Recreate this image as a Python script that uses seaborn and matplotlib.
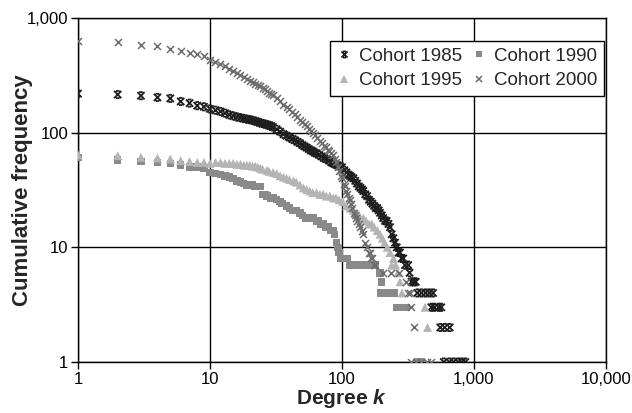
import matplotlib
matplotlib.use("Agg")
import matplotlib.pyplot as plt
import seaborn as sns
import pandas as pd
from matplotlib.lines import Line2D
from matplotlib.path import Path
from matplotlib.ticker import FixedLocator, FixedFormatter, NullLocator

# ---------------- data ----------------
k_1985 = [1, 2, 3, 4, 5, 6, 7, 8, 9, 10, 11, 12, 13, 14, 15, 16, 17, 18, 19, 20, 21, 22, 23, 24,
          25, 26, 27, 28, 29, 30, 32, 34, 36, 38, 40, 42, 44, 46, 48, 50, 52, 54, 56, 58, 60, 62,
          64, 67, 70, 73, 76, 80, 83, 86, 89, 92, 96, 100, 104, 108, 112, 115, 118, 122, 126,
          130, 134, 138, 142, 145, 150, 155, 160, 165, 170, 175, 180, 185, 190, 194, 200, 205,
          212, 218, 225, 231, 238, 245, 252, 260, 268, 275, 283, 291, 300, 318, 325, 336, 350,
          362, 372, 400, 430, 460, 490, 475, 500, 540, 565, 555, 600, 655, 590, 650, 700, 760,
          810, 860]
f_1985 = [219, 215, 210, 203, 199, 187, 181, 172, 168, 161, 157, 153, 148, 143, 140, 137, 135, 133,
          131, 130, 128, 126, 124, 122, 120, 119, 117, 116, 114, 112, 107, 102, 97, 94, 91, 88, 86,
          83, 81, 78, 76, 74, 72, 70, 69, 67, 66, 64, 62, 60, 59, 57, 55, 54, 53, 52, 51, 50, 47,
          45, 43, 42, 41, 40, 38, 36, 34, 33, 32, 31, 29, 28, 26, 25, 24, 23, 22, 22, 21, 20, 19,
          18, 17, 17, 16, 15, 13, 12, 11, 10, 9, 9, 8, 8, 7, 7, 6, 5, 5, 5, 4, 4, 4, 4, 4, 3, 3,
          3, 3, 2, 2, 2, 1, 1, 1, 1, 1, 1]

k_1990 = [1, 2, 3, 4, 5, 6, 7, 8, 9, 10, 11, 12, 13, 14, 15, 16, 17, 18, 19, 20, 21, 22, 23, 24,
          25, 26, 27, 29, 30, 32, 34, 35, 38, 40, 42, 45, 48, 50, 53, 55, 58, 61, 64, 66, 69, 72,
          75, 78, 82, 86, 88, 91, 93, 95, 97, 101, 105, 110, 115, 122, 130, 140, 150, 165, 180,
          194, 200, 198, 215, 235, 247, 258, 270, 285, 308, 375, 400]
f_1990 = [61, 58, 56, 55, 54, 52, 50, 50, 49, 45, 44, 43, 42, 41, 40, 38, 37, 36, 35, 35, 35, 34,
          34, 34, 29, 29, 28, 27, 27, 26, 25, 24, 23, 22, 21, 21, 20, 19, 18, 18, 18, 18, 17, 17,
          16, 16, 15, 15, 14, 14, 13, 11, 10, 9, 8, 8, 8, 8, 7, 7, 7, 7, 7, 7, 7, 6, 5, 4, 4, 4,
          4, 3, 3, 3, 3, 1, 1]

k_1995 = [1, 2, 3, 4, 5, 6, 7, 8, 9, 10, 11, 12, 13, 14, 15, 16, 17, 18, 19, 20, 21, 22, 23, 24,
          25, 27, 28, 30, 32, 34, 36, 38, 40, 43, 45, 48, 51, 54, 57, 60, 64, 68, 72, 76, 81, 86,
          90, 95, 101, 108, 115, 122, 128, 135, 145, 152, 160, 168, 175, 185, 194, 202, 210, 220,
          231, 238, 245, 255, 265, 275, 285, 425, 445]
f_1995 = [64, 63, 61, 60, 59, 57, 56, 55, 55, 54, 55, 55, 54, 54, 54, 53, 53, 52, 52, 52, 51, 51,
          50, 49, 48, 47, 46, 45, 44, 42, 41, 40, 39, 38, 37, 35, 33, 32, 31, 30, 30, 29, 29, 28,
          28, 27, 27, 26, 25, 23, 22, 21, 20, 19, 18, 17, 16, 16, 15, 14, 13, 12, 11, 10, 9, 7,
          8, 7, 6, 5, 4, 3, 2]

k_2000 = [1, 2, 3, 4, 5, 6, 7, 8, 9, 10, 11, 12, 13, 14, 15, 16, 17, 18, 19, 20, 21, 22, 23, 24,
          25, 26, 27, 28, 29, 30, 32, 34, 36, 38, 40, 42, 44, 46, 48, 50, 52, 54, 56, 58, 60, 62,
          65, 68, 70, 73, 75, 78, 80, 83, 85, 88, 90, 93, 95, 98, 100, 103, 105, 108, 110, 113,
          115, 118, 120, 123, 125, 128, 130, 134, 138, 142, 145, 150, 155, 160, 163, 167, 170,
          175, 178, 205, 235, 270, 305, 315, 325, 336, 350, 335, 365, 400, 440, 475]
f_2000 = [630, 615, 585, 565, 535, 520, 495, 485, 465, 430, 415, 400, 380, 362, 343, 330, 318, 305,
          295, 285, 276, 268, 261, 254, 246, 238, 231, 224, 218, 212, 201, 190, 176, 168, 160, 152,
          145, 137, 130, 125, 120, 114, 108, 103, 99, 95, 90, 85, 81, 77, 75, 71, 69, 66, 64, 59,
          56, 50, 46, 42, 40, 36, 34, 31, 29, 27, 26, 24, 22, 20, 19, 18, 17, 16, 15, 14, 13, 11,
          10, 9, 9, 8, 8, 7, 7, 6, 6, 6, 5, 4, 4, 3, 2, 1, 1, 1, 1, 1]

labels = ["Cohort 1985", "Cohort 1990", "Cohort 1995", "Cohort 2000"]
x_ticks = [1, 10, 100, 1000, 10000]
x_tick_labels = ["1", "10", "100", "1,000", "10,000"]
y_ticks = [1, 10, 100, 1000]
y_tick_labels = ["1", "10", "100", "1,000"]

# ---------------- style ----------------
sns.set_theme(style="white")
plt.rcParams["font.family"] = ["Liberation Sans", "DejaVu Sans"]
plt.rcParams["mathtext.fontset"] = "custom"
plt.rcParams["mathtext.it"] = "Liberation Sans:italic:bold"
plt.rcParams["mathtext.rm"] = "Liberation Sans:bold"

# Excel-like "star" marker: an x with short caps at top and bottom
star = Path([(-1, -1), (1, 1), (-1, 1), (1, -1), (-0.5, 1), (0.5, 1), (-0.5, -1), (0.5, -1)],
            [Path.MOVETO, Path.LINETO, Path.MOVETO, Path.LINETO,
             Path.MOVETO, Path.LINETO, Path.MOVETO, Path.LINETO])

series = [
    (k_1985, f_1985, labels[0], "#1e1e1e", star, 5.2, 1.3, "path"),
    (k_1990, f_1990, labels[1], "#8a8a8a", "s", 5.4, 0, "filled"),
    (k_1995, f_1995, labels[2], "#b4b4b4", "^", 6.4, 0, "filled"),
    (k_2000, f_2000, labels[3], "#6c6c6c", "x", 5.0, 1.1, "line"),
]

fig = plt.figure(figsize=(6.32, 4.13), dpi=100)
ax = fig.add_axes([78 / 632, 51 / 413, 528 / 632, 344 / 413])

handles = {}
for kx, fy, lab, col, mk, ms, lw, kind in series:
    df = pd.DataFrame({"k": kx, "f": fy})
    if kind == "filled":
        sns.scatterplot(data=df, x="k", y="f", ax=ax, marker=mk, color=col,
                        s=ms ** 2, linewidth=0, edgecolor="none", zorder=3)
        handles[lab] = Line2D([], [], linestyle="none", marker=mk, color=col,
                              markerfacecolor=col, markeredgewidth=0,
                              markersize=ms * 0.85)
    elif kind == "path":
        sns.scatterplot(data=df, x="k", y="f", ax=ax, marker=mk, color=col,
                        s=ms ** 2, linewidth=lw, edgecolor=col, facecolor="none",
                        zorder=3)
        handles[lab] = Line2D([], [], linestyle="none", marker=mk, color=col,
                              markerfacecolor="none", markeredgecolor=col,
                              markersize=ms * 0.85, markeredgewidth=lw)
    else:
        sns.scatterplot(data=df, x="k", y="f", ax=ax, marker=mk, color=col,
                        s=ms ** 2, linewidth=lw, zorder=3)
        handles[lab] = Line2D([], [], linestyle="none", marker=mk, color=col,
                              markeredgecolor=col, markersize=ms * 0.85,
                              markeredgewidth=lw)

ax.set_xscale("log")
ax.set_yscale("log")
ax.set_xlim(1, 10000)
ax.set_ylim(1, 1000)

ax.xaxis.set_major_locator(FixedLocator(x_ticks))
ax.xaxis.set_major_formatter(FixedFormatter(x_tick_labels))
ax.xaxis.set_minor_locator(NullLocator())
ax.yaxis.set_major_locator(FixedLocator(y_ticks))
ax.yaxis.set_major_formatter(FixedFormatter(y_tick_labels))
ax.yaxis.set_minor_locator(NullLocator())

ax.grid(True, which="major", color="black", linewidth=1.0)
ax.set_axisbelow(True)
for sp in ax.spines.values():
    sp.set_visible(True)
    sp.set_color("black")
    sp.set_linewidth(1.0)

ax.tick_params(axis="both", which="major", direction="out", length=5, width=1,
               color="black", labelsize=12, labelcolor="black", pad=2, bottom=True, left=True)

ax.set_xlabel("Degree $k$", fontsize=15, fontweight="bold", labelpad=0)
ax.set_ylabel("Cumulative frequency", fontsize=16, fontweight="bold")
ax.yaxis.set_label_coords((33 - 78) / 528, 0.5)

# legend ordered row-wise like the reference (1985, 1990 / 1995, 2000)
order = [labels[0], labels[2], labels[1], labels[3]]
leg = ax.legend(handles=[handles[l] for l in order], labels=order, ncol=2, loc="upper left",
                bbox_to_anchor=(330 / 632, 1 - 41 / 413), bbox_transform=fig.transFigure,
                fontsize=13.5, frameon=True, fancybox=False, edgecolor="black",
                handlelength=0.8, handletextpad=0.4, columnspacing=0.5,
                borderpad=0.35, labelspacing=0.4, borderaxespad=0)
leg.get_frame().set_linewidth(1.0)
leg.get_frame().set_facecolor("white")
leg.get_frame().set_alpha(1)

fig.savefig("out.png", dpi=100)
